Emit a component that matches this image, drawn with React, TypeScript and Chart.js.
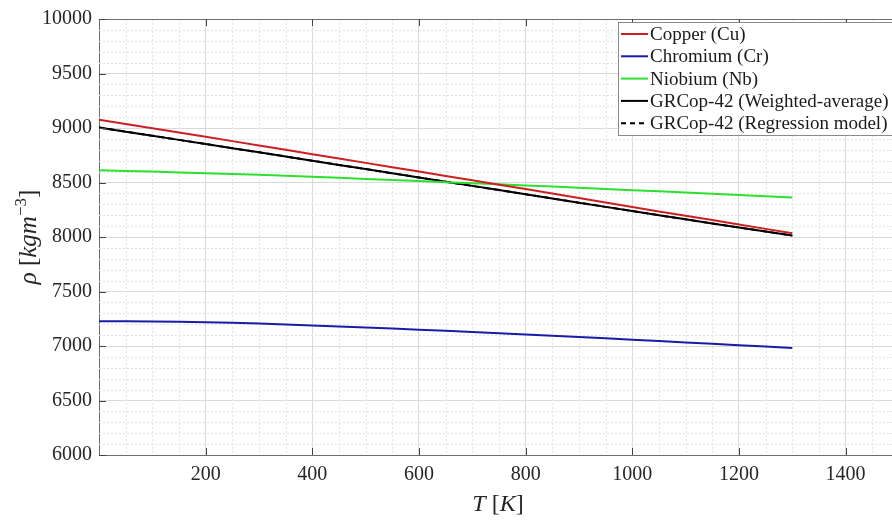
import React, { useEffect, useRef } from "react";
import { Chart, registerables } from "chart.js";
Chart.register(...registerables);

const temperatureK = [0, 100, 200, 300, 400, 500, 600, 700, 800, 900, 1000, 1100, 1200, 1300];
const copperDensity = [9076, 8998, 8919, 8840, 8760, 8680, 8600, 8520, 8440, 8357, 8275, 8195, 8115, 8034];
const chromiumDensity = [7228, 7225, 7218, 7207, 7189, 7170, 7150, 7128, 7106, 7083, 7058, 7033, 7008, 6982];
const niobiumDensity = [8613, 8600, 8585, 8570, 8552, 8533, 8513, 8493, 8473, 8452, 8430, 8408, 8386, 8363];
const grcopWeighted = [9004, 8929, 8853, 8777, 8700, 8623, 8546, 8469, 8392, 8315, 8238, 8162, 8087, 8013];
const grcopRegression = [9004, 8929, 8853, 8777, 8700, 8623, 8546, 8469, 8392, 8315, 8238, 8162, 8087, 8013];

const seriesLabels = [
  "Copper (Cu)",
  "Chromium (Cr)",
  "Niobium (Nb)",
  "GRCop-42 (Weighted-average)",
  "GRCop-42 (Regression model)",
];
const seriesColors = ["#cc1f1f", "#1b1ba8", "#2ee02e", "#000000", "#000000"];

const xTicks = [200, 400, 600, 800, 1000, 1200, 1400];
const yTicks = [6000, 6500, 7000, 7500, 8000, 8500, 9000, 9500, 10000];
const xMinorStep = 50;
const yMinorStep = 100;
const xMin = 0;
const xMax = 1487;
const yMin = 6000;
const yMax = 10000;

const SERIF = "Liberation Serif";

Chart.defaults.font.family = SERIF;

const decorPlugin = {
  id: "decor",
  beforeDatasetsDraw(chart: any) {
    const { ctx, chartArea, scales } = chart;
    const xs = scales.x;
    const ys = scales.y;
    ctx.save();
    ctx.strokeStyle = "#e3e3e3";
    ctx.lineWidth = 1;
    ctx.setLineDash([2, 2]);
    for (let v = xMin + xMinorStep; v < xMax; v += xMinorStep) {
      if (v % 200 === 0) continue;
      const px = Math.round(xs.getPixelForValue(v)) + 0.5;
      ctx.beginPath();
      ctx.moveTo(px, chartArea.top);
      ctx.lineTo(px, chartArea.bottom);
      ctx.stroke();
    }
    for (let v = yMin + yMinorStep; v < yMax; v += yMinorStep) {
      if (v % 500 === 0) continue;
      const py = Math.round(ys.getPixelForValue(v)) + 0.5;
      ctx.beginPath();
      ctx.moveTo(chartArea.left, py);
      ctx.lineTo(chartArea.right, py);
      ctx.stroke();
    }
    ctx.restore();
  },
  afterDatasetsDraw(chart: any) {
    const { ctx, chartArea, scales } = chart;
    const xs = scales.x;
    const ys = scales.y;
    ctx.save();
    ctx.strokeStyle = "#6e6e6e";
    ctx.lineWidth = 1;
    ctx.setLineDash([]);
    ctx.beginPath();
    ctx.moveTo(chartArea.left, chartArea.top + 0.5);
    ctx.lineTo(chartArea.right, chartArea.top + 0.5);
    ctx.stroke();
    ctx.strokeStyle = "#444";
    for (const v of xTicks) {
      const px = Math.round(xs.getPixelForValue(v)) + 0.5;
      ctx.beginPath();
      ctx.moveTo(px, chartArea.bottom);
      ctx.lineTo(px, chartArea.bottom - 7);
      ctx.moveTo(px, chartArea.top);
      ctx.lineTo(px, chartArea.top + 7);
      ctx.stroke();
    }
    for (const v of yTicks) {
      const py = Math.round(ys.getPixelForValue(v)) + 0.5;
      ctx.beginPath();
      ctx.moveTo(chartArea.left, py);
      ctx.lineTo(chartArea.left + 7, py);
      ctx.stroke();
    }
    ctx.restore();
  },
  afterDraw(chart: any) {
    const { ctx, chartArea } = chart;
    ctx.save();
    const bx = 618;
    const by = 22;
    const bh = 113;
    ctx.fillStyle = "#ffffff";
    ctx.fillRect(bx, by, chart.width - bx + 2, bh);
    ctx.strokeStyle = "#8a8a8a";
    ctx.lineWidth = 1;
    ctx.strokeRect(bx + 0.5, by + 0.5, chart.width - bx + 2, bh);
    ctx.font = `19px ${SERIF}`;
    ctx.textBaseline = "middle";
    ctx.textAlign = "left";
    chart.data.datasets.forEach((ds: any, i: number) => {
      const y = 34 + i * 22.3;
      ctx.strokeStyle = ds.borderColor;
      ctx.lineWidth = 2;
      ctx.setLineDash(ds.borderDash && ds.borderDash.length ? [5, 4] : []);
      ctx.beginPath();
      ctx.moveTo(bx + 3, y);
      ctx.lineTo(bx + 30, y);
      ctx.stroke();
      ctx.setLineDash([]);
      ctx.fillStyle = "#1a1a1a";
      ctx.fillText(ds.label, bx + 32, y + 1);
    });

    ctx.fillStyle = "#262626";
    ctx.textBaseline = "alphabetic";
    const xParts: [string, string][] = [
      ["T", "italic "],
      [" [", ""],
      ["K", "italic "],
      ["]", ""],
    ];
    let total = 0;
    const fsz = 24;
    for (const [t, st] of xParts) {
      ctx.font = `${st}${fsz}px ${SERIF}`;
      total += ctx.measureText(t).width;
    }
    let cx = 498 - total / 2;
    for (const [t, st] of xParts) {
      ctx.font = `${st}${fsz}px ${SERIF}`;
      ctx.fillText(t, cx, 511);
      cx += ctx.measureText(t).width;
    }

    const yParts: [string, string, number, number][] = [
      ["\u03C1", "italic ", 25, 0],
      [" [", "", 25, 0],
      ["kgm", "italic ", 25, 0],
      ["\u22123", "", 17, -10],
      ["]", "", 25, 0],
    ];
    let totY = 0;
    for (const [t, st, s] of yParts) {
      ctx.font = `${st}${s}px ${SERIF}`;
      totY += ctx.measureText(t).width;
    }
    const centerY = (chartArea.top + chartArea.bottom) / 2;
    ctx.translate(36, centerY);
    ctx.rotate(-Math.PI / 2);
    let ty = -totY / 2;
    for (const [t, st, s, dy] of yParts) {
      ctx.font = `${st}${s}px ${SERIF}`;
      ctx.fillText(t, ty, dy);
      ty += ctx.measureText(t).width;
    }
    ctx.restore();
  },
};

export default function App() {
  const ref = useRef<HTMLCanvasElement | null>(null);
  useEffect(() => {
    if (!ref.current) return;
    const mk = (arr: number[]) => temperatureK.map((t, i) => ({ x: t, y: arr[i] }));
    const series = [copperDensity, chromiumDensity, niobiumDensity, grcopWeighted, grcopRegression];
    const chart = new Chart(ref.current, {
      type: "line",
      data: {
        datasets: series.map((arr, i) => ({
          label: seriesLabels[i],
          data: mk(arr),
          borderColor: seriesColors[i],
          backgroundColor: seriesColors[i],
          borderWidth: 2,
          borderDash: i === 4 ? [6, 4] : [],
          pointRadius: 0,
          tension: 0.2,
          order: i === 4 ? 10 : i,
        })),
      },
      options: {
        responsive: false,
        animation: false,
        layout: { padding: { top: 15, left: 0, right: 0, bottom: 0 } },
        plugins: { legend: { display: false }, tooltip: { enabled: false } },
        scales: {
          x: {
            type: "linear",
            min: xMin,
            max: xMax,
            afterBuildTicks: (s: any) => {
              s.ticks = xTicks.map((v) => ({ value: v }));
            },
            afterFit: (s: any) => {
              s.height = 65;
            },
            grid: { color: "#dadada", drawTicks: false, lineWidth: 1 },
            border: { display: true, color: "#6e6e6e" },
            ticks: {
              font: { family: SERIF, size: 20 },
              color: "#262626",
              padding: 8,
              maxRotation: 0,
              callback: (v: any) => String(v),
            },
          },
          y: {
            type: "linear",
            min: yMin,
            max: yMax,
            afterBuildTicks: (s: any) => {
              s.ticks = yTicks.map((v) => ({ value: v }));
            },
            afterFit: (s: any) => {
              s.width = 99;
            },
            grid: { color: "#dadada", drawTicks: false, lineWidth: 1 },
            border: { display: true, color: "#6e6e6e" },
            ticks: {
              font: { family: SERIF, size: 20 },
              color: "#262626",
              padding: 7,
              callback: (v: any) => String(v),
            },
          },
        },
      },
      plugins: [decorPlugin],
    });
    return () => chart.destroy();
  }, []);
  return (
    <div style={{ position: "absolute", left: 0, top: 0, width: 892, height: 520, background: "#fff" }}>
      <canvas ref={ref} width={892} height={520} style={{ width: 892, height: 520, display: "block" }} />
    </div>
  );
}
